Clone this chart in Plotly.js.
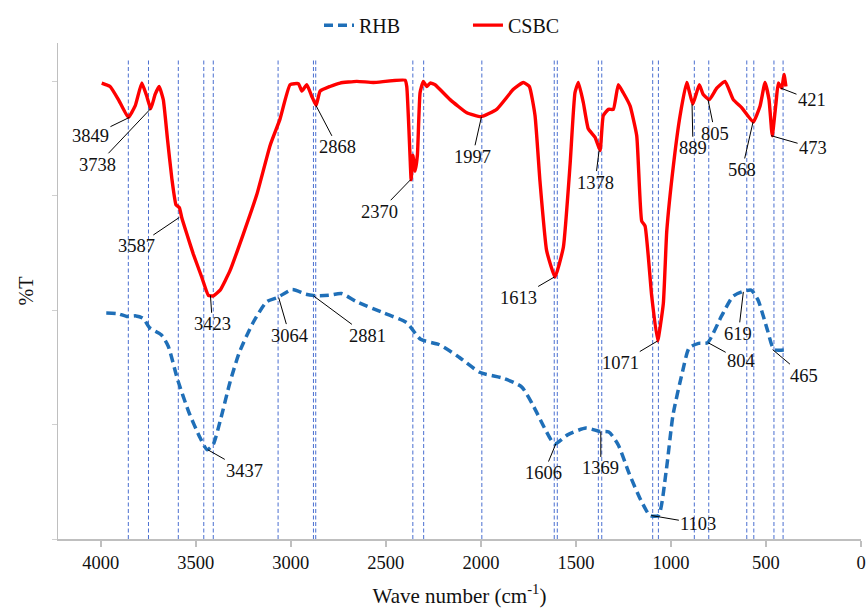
<!DOCTYPE html>
<html>
<head>
<meta charset="utf-8">
<script src="https://cdn.plot.ly/plotly-3.0.1.min.js"></script>
<style>html,body{margin:0;padding:0;background:#fff;}#chart{width:867px;height:610px;}</style>
</head>
<body>
<div id="chart"></div>
<script>
// ---- data (wave number in cm-1, %T in arbitrary relative units) ----
const csbcWave = [3995,3951,3907,3855,3819,3784,3758,3737,3714,3693,3671,3649,3626,3604,3586,3574,3547,3513,3469,3434,3407,3372,3320,3250,3179,3109,3057,3004,2960,2942,2916,2890,2867,2846,2794,2741,2653,2566,2399,2390,2373,2367,2358,2346,2334,2320,2303,2285,2267,2241,2162,2074,1999,1917,1829,1777,1745,1715,1689,1654,1610,1566,1531,1505,1487,1461,1435,1399,1373,1356,1329,1303,1277,1251,1215,1180,1154,1136,1101,1070,1040,1022,987,952,917,885,851,830,798,759,715,672,628,567,531,505,484,467,447,435,417,405,395];
const csbcT = [79.7,79.1,76.8,73.7,75.7,79.7,77.4,75.2,77.7,79.1,76.8,69.9,63.0,58.4,57.9,56.2,53.3,49.8,45.8,42.6,42.5,43.5,46.9,53.3,60.2,68.8,73.4,79.4,79.6,78.3,79.4,77.4,75.8,78.3,79.1,79.7,80.0,79.8,80.2,79.1,67.1,62.8,67.1,64.3,67.1,78.0,80.0,79.1,79.7,79.4,76.8,74.5,73.8,75.1,78.6,79.8,79.1,74.0,62.5,50.4,45.8,51.0,65.3,78.0,79.8,76.3,71.7,70.2,67.9,74.0,75.1,75.1,79.4,78.0,75.7,70.5,55.6,54.7,42.4,34.6,41.2,53.8,65.3,74.0,79.8,76.0,79.4,77.7,76.8,78.8,80.0,76.8,75.4,72.9,75.7,79.8,76.8,70.5,76.3,79.7,78.8,81.2,79.1];

const rhbWave = [3971,3911,3863,3815,3778,3742,3682,3645,3597,3537,3476,3440,3409,3368,3320,3271,3199,3126,3071,2993,2921,2860,2800,2733,2655,2510,2390,2317,2221,2124,2003,1882,1786,1726,1665,1612,1544,1447,1375,1327,1278,1218,1157,1110,1066,1025,989,940,904,855,808,735,674,626,578,542,493,457,385];
const rhbT = [39.5,39.4,38.9,39.0,38.6,36.9,35.7,33.7,28.0,22.2,17.6,15.6,16.5,21.1,27.4,32.6,37.8,41.5,42.2,43.6,42.8,42.5,42.6,42.9,41.5,39.5,37.8,34.9,34.0,32.0,29.1,28.1,26.6,23.4,19.4,16.6,18.2,19.4,18.8,18.7,16.5,11.3,6.7,4.1,4.1,11.9,21.7,29.1,33.4,34.2,34.3,38.9,42.4,43.2,43.5,41.8,36.6,33.1,33.1];

// reference (dashed) lines at band positions
const bandLines = [3855,3749,3592,3458,3408,3067,2881,2869,2358,2301,1995,1614,1598,1382,1364,1096,1066,877,801,601,564,458,410];
const bandTop = 84;

// peak labels
const csbcPeaks = [3849,3738,3587,3423,2868,2370,1997,1613,1378,1071,889,805,568,473,421];
const rhbPeaks = [3437,3064,2881,1606,1369,1103,804,619,465];

const xTicks = [4000,3500,3000,2500,2000,1500,1000,500,0];

// ---- label offsets (pixels, text centre relative to anchor) ----
const csbcOff = [[-39,19],[-53,56],[-43,29],[2,29],[22,42],[-31,32],[-9,40],[-36,21],[-4,32],[-37,22],[1,44],[7,34],[-11,48],[42,12],[31,12]];
const rhbOff = [[37,21],[11,38],[54,40],[-12,29],[0,37],[47,8],[33,18],[-5,42],[31,26]];

function anchorY(xs, ys, w){
  let best=null;
  for(let i=0;i<xs.length;i++){ if(Math.abs(xs[i]-w)<=15){ if(best===null||ys[i]<ys[best]) best=i; } }
  if(best===null){ let d=1e9; for(let i=0;i<xs.length;i++){ const dd=Math.abs(xs[i]-w); if(dd<d){d=dd;best=i;} } }
  return ys[best];
}

const vx=[], vy=[];
bandLines.forEach(v=>{ vx.push(v,v,null); vy.push(0,bandTop,null); });

const serif = 'Liberation Serif';

const traces = [
  {x:vx, y:vy, mode:'lines', showlegend:false, hoverinfo:'skip',
   line:{color:'#4A6FD0', width:1, dash:'4px,2.5px'}},
  {x:rhbWave, y:rhbT, name:'RHB', mode:'lines',
   line:{color:'#1F6FB8', width:3.5, dash:'9px,5px', shape:'spline', smoothing:0.6}},
  {x:csbcWave, y:csbcT, name:'CSBC', mode:'lines',
   line:{color:'#FF0000', width:3.4, shape:'spline', smoothing:0.4}}
];

const ann = [];
function addAnn(peaks, offs, xs, ys){
  peaks.forEach((p,i)=>{
    ann.push({x:p, y:anchorY(xs,ys,p), text:String(p), showarrow:true, arrowhead:0,
      arrowwidth:1, arrowcolor:'#000', ax:offs[i][0], ay:offs[i][1], standoff:0,
      font:{family:serif, size:18.5, color:'#111'}});
  });
}
addAnn(csbcPeaks, csbcOff, csbcWave, csbcT);
addAnn(rhbPeaks, rhbOff, rhbWave, rhbT);

const layout = {
  width:867, height:610,
  margin:{l:58, r:6, t:36, b:71},
  paper_bgcolor:'#fff', plot_bgcolor:'#fff',
  font:{family:serif, color:'#111'},
  showlegend:true,
  legend:{orientation:'h', x:0.325, xanchor:'left', y:1.036, yanchor:'middle',
    font:{family:serif, size:20, color:'#111'}, entrywidth:104, entrywidthmode:'pixels',
    bgcolor:'rgba(0,0,0,0)'},
  xaxis:{range:[4225,0], tickvals:xTicks, ticktext:xTicks.map(String), showgrid:false, zeroline:false,
    showline:true, linecolor:'#BFBFBF', linewidth:1.5, ticks:'outside', ticklen:6, tickcolor:'#BFBFBF', tickwidth:1.5,
    tickfont:{family:serif, size:18.5, color:'#111'},
    title:{text:'Wave number (cm<sup>-1</sup>)', font:{family:serif, size:21, color:'#111'}, standoff:16}},
  xaxis2:{range:[4225,0], overlaying:'x', tickvals:xTicks, showticklabels:false, showgrid:false, zeroline:false,
    showline:false, ticks:'inside', ticklen:6, tickcolor:'#BFBFBF', tickwidth:1.5, side:'bottom'},
  yaxis:{range:[0,86.7], tickvals:[0,20,40,60,80], showticklabels:false, showgrid:false, zeroline:false,
    showline:true, linecolor:'#BFBFBF', linewidth:1.5, ticks:'outside', ticklen:5, tickcolor:'#D0D0D0',
    title:{text:'%T', font:{family:serif, size:20, color:'#111'}, standoff:12}},
  annotations:ann
};

Plotly.newPlot('chart', traces, layout, {displayModeBar:false, staticPlot:true});
</script>
</body>
</html>
